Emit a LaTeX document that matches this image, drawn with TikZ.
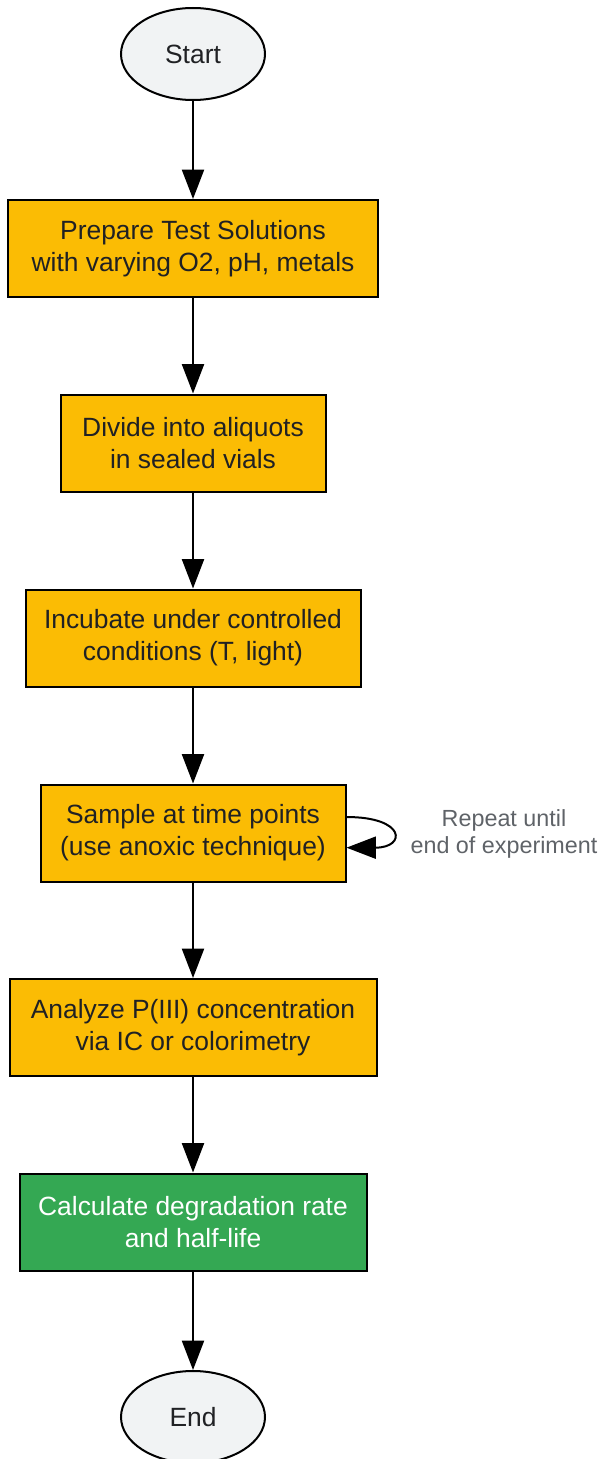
\documentclass[tikz,border=0pt]{standalone}
\usepackage{fontspec}
\setmainfont{Liberation Sans}
\usetikzlibrary{arrows.meta,shapes.geometric}

\definecolor{stepfill}{RGB}{251,188,4}
\definecolor{endfill}{RGB}{52,168,83}
\definecolor{termfill}{RGB}{241,243,244}
\definecolor{inktext}{RGB}{32,33,36}
\definecolor{notetext}{RGB}{95,99,104}

\tikzset{every picture/.style={line width=1.5pt}}
\tikzset{
	stepbox/.style={draw=black, fill=stepfill, text=inktext, align=center, minimum height=72.75pt, inner sep=0pt, font=\fontsize{19.8}{24}\selectfont},
	donebox/.style={stepbox, fill=endfill, text=white},
	terminal/.style={draw=black, fill=termfill, text=inktext, ellipse, minimum width=108pt, minimum height=69pt, inner sep=0pt, font=\fontsize{19.8}{24}\selectfont},
	flowarrow/.style={draw=black, -{Triangle[length=22pt,width=16.5pt]}},
	looplabel/.style={text=notetext, align=center, font=\fontsize{17.5}{20.25}\selectfont}}

\begin{document}
\begin{tikzpicture}[x=0.75pt,y=0.75pt,yscale=-1,xscale=1]
	\useasboundingbox (0,0) rectangle (604,1459);

	% Terminals
	\node [terminal] (start) at (193,54) {Start};
	\node [terminal] (finish) at (193,1417) {End};

	% Steps
	\node [stepbox, minimum width=277.5pt] (prepare) at (193,248.5) {Prepare Test Solutions\\with varying O2, pH, metals};
	\node [stepbox, minimum width=198.75pt] (divide) at (193,443) {Divide into aliquots\\in sealed vials};
	\node [stepbox, minimum width=251.25pt] (incubate) at (193,638) {Incubate under controlled\\conditions (T, light)};
	\node [stepbox, minimum width=228.75pt] (sample) at (193,833) {Sample at time points\\(use anoxic technique)};
	\node [stepbox, minimum width=275.25pt] (analyze) at (193,1027.5) {Analyze P(III) concentration\\via IC or colorimetry};
	\node [donebox, minimum width=260.25pt] (calculate) at (193,1222) {Calculate degradation rate\\and half-life};

	% Loop text
	\node [looplabel] (repeat) at (504,834) {Repeat until\\end of experiment};

	% Connectors
	\draw [flowarrow] (start) -- (prepare);
	\draw [flowarrow] (prepare) -- (divide);
	\draw [flowarrow] (divide) -- (incubate);
	\draw [flowarrow] (incubate) -- (sample);
	\draw [flowarrow] (sample) -- (analyze);
	\draw [flowarrow] (analyze) -- (calculate);
	\draw [flowarrow] (calculate) -- (finish);
	\draw [flowarrow] ([yshift=-12pt]sample.east) to[out=0,in=0,looseness=5] ([yshift=11pt]sample.east);

\end{tikzpicture}
\end{document}
